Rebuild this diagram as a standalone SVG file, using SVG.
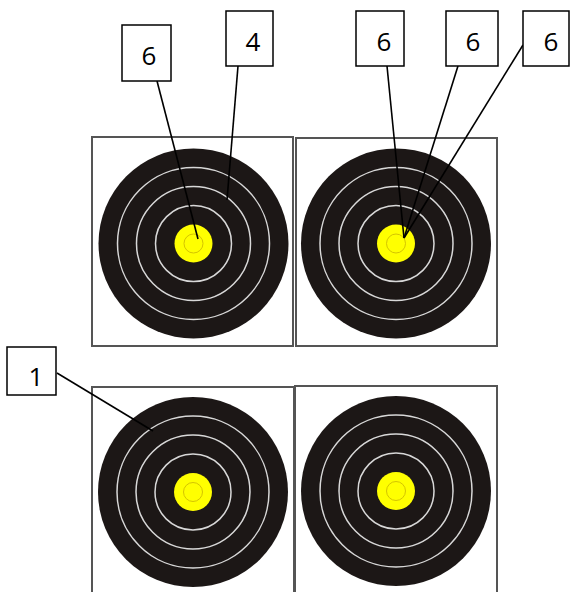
<svg xmlns="http://www.w3.org/2000/svg" xmlns:xlink="http://www.w3.org/1999/xlink" width="570" height="592" viewBox="0 0 570 592">
<style>
.frame{fill:#fff;stroke:#555;stroke-width:2}
.box{fill:#fff;stroke:#000;stroke-width:1.5}
.lbl{font-family:"Open Sans","DejaVu Sans",sans-serif;font-size:26px;fill:#000;text-anchor:middle}
.ring{fill:none;stroke:#d8d8d8;stroke-width:1.5}
.lead{stroke:#000;stroke-width:1.6;fill:none}
</style>
<defs>
<g id="target">
<circle r="95" fill="#1c1716"/>
<circle r="76" class="ring"/>
<circle r="57" class="ring"/>
<circle r="38" class="ring"/>
<circle r="19" fill="#ffff00"/>
<circle r="9.5" fill="none" stroke="#d4c400" stroke-width="1"/>
</g>
</defs>
<rect width="570" height="592" fill="#fff"/>
<g id="target-top-left">
<rect class="frame" x="92" y="137" width="201" height="209"/>
<use xlink:href="#target" x="193.5" y="243.5"/>
</g>
<g id="target-top-right">
<rect class="frame" x="296" y="138" width="201" height="208"/>
<use xlink:href="#target" x="396" y="243.5"/>
</g>
<g id="target-bottom-left">
<rect class="frame" x="92" y="387" width="202" height="215"/>
<use xlink:href="#target" x="193" y="492"/>
</g>
<g id="target-bottom-right">
<rect class="frame" x="295" y="386" width="202" height="216"/>
<use xlink:href="#target" x="396" y="491"/>
</g>
<g id="connectors">
<line class="lead" x1="157" y1="81" x2="198" y2="239"/>
<line class="lead" x1="238" y1="66" x2="227" y2="200"/>
<line class="lead" x1="387" y1="66" x2="404" y2="238"/>
<line class="lead" x1="458" y1="66" x2="404" y2="238"/>
<line class="lead" x1="523" y1="45" x2="404" y2="238"/>
<line class="lead" x1="57" y1="373" x2="153" y2="431"/>
</g>
<g id="label-6a">
<rect class="box" x="122" y="25" width="49" height="56"/>
<text class="lbl" x="149" y="65">6</text>
</g>
<g id="label-4">
<rect class="box" x="226" y="11" width="47" height="55"/>
<text class="lbl" x="253" y="51">4</text>
</g>
<g id="label-6b">
<rect class="box" x="356" y="11" width="48" height="55"/>
<text class="lbl" x="384" y="51">6</text>
</g>
<g id="label-6c">
<rect class="box" x="446" y="11" width="52" height="55"/>
<text class="lbl" x="473" y="51">6</text>
</g>
<g id="label-6d">
<rect class="box" x="523" y="11" width="46" height="55"/>
<text class="lbl" x="551" y="51">6</text>
</g>
<g id="label-1">
<rect class="box" x="7" y="347" width="49" height="48"/>
<text class="lbl" x="36" y="386">1</text>
</g>
</svg>
